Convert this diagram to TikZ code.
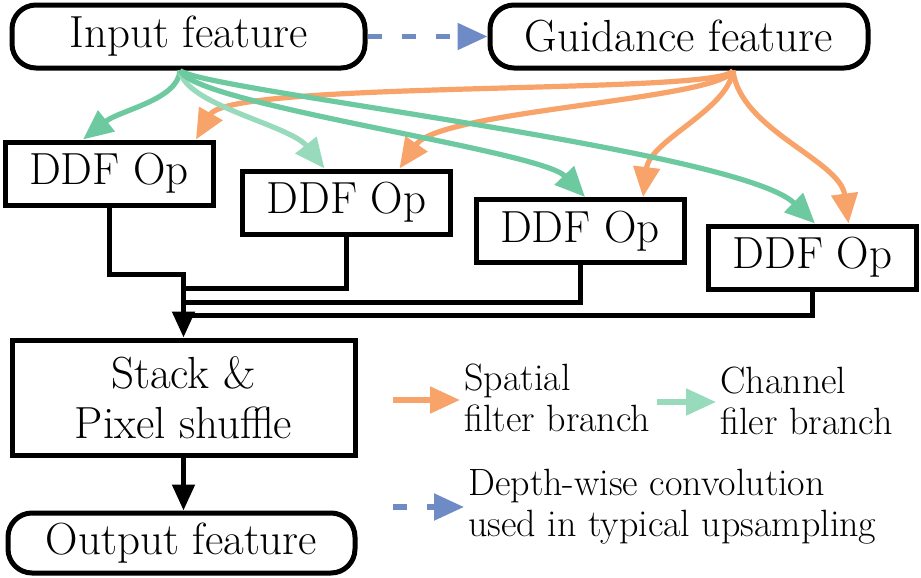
\documentclass[tikz,border=0pt]{standalone}
\usetikzlibrary{arrows.meta}

\definecolor{grn}{RGB}{109,201,160}
\definecolor{lgrn}{RGB}{152,218,188}
\definecolor{org}{RGB}{247,163,106}
\definecolor{blu}{RGB}{110,139,198}

\tikzset{
  feat/.style={draw, line width=2.5pt, rounded corners=12pt, minimum height=31.5pt,
    inner sep=0pt, font=\fontsize{22.5}{27}\selectfont},
  opbox/.style={draw, line width=2.5pt, minimum width=104pt, minimum height=31.5pt,
    inner sep=0pt, font=\fontsize{22.5}{27}\selectfont},
  legtext/.style={anchor=west, align=left, inner sep=2pt, font=\fontsize{19}{20.5}\selectfont},
  tip/.style={-{Triangle[length=15pt 0, width=13pt 0]}},
  flow/.style={line width=2.6pt, tip},
  wire/.style={line width=2.5pt},
  dsh/.style={line width=2.6pt, blu, dash pattern=on 7pt off 10pt, tip}
}

\begin{document}
\begin{tikzpicture}[x=0.5pt, y=-0.5pt]
  \useasboundingbox (0,0) rectangle (921,578);

  \node[feat, minimum width=176.5pt] (in) at (188.5,36.5) {Input feature};
  \node[feat, minimum width=189pt] (gd) at (679,36.5) {Guidance feature};
  \draw[dsh] (in.east) -- (gd.west);

  \foreach \n/\x/\y in {1/109/173.5, 2/346.5/202.5, 3/580/231, 4/812.5/257.5} {
    \node[opbox] (d\n) at (\x,\y) {DDF Op};
  }

  \node[opbox, minimum width=171.5pt, minimum height=57.5pt, align=center,
    font=\fontsize{22.5}{25}\selectfont] (stk) at (183.5,397.5) {Stack \&\\Pixel shuffle};
  \node[feat, minimum width=173.5pt, minimum height=30pt] (out) at (181.5,543) {Output feature};

  % spatial branch
  \draw[flow, org] ([xshift=27pt]gd.south) .. controls (725,95) and (230,80) .. ([xshift=43.5pt]d1.north);
  \draw[flow, org] ([xshift=27pt]gd.south) .. controls (720,100) and (440,110) .. ([xshift=26.5pt]d2.north);
  \draw[flow, org] ([xshift=27pt]gd.south) .. controls (728,110) and (650,140) .. ([xshift=31.5pt]d3.north);
  \draw[flow, org] ([xshift=27pt]gd.south) .. controls (740,130) and (840,160) .. ([xshift=18pt]d4.north);

  % channel branch
  \draw[flow, grn] ([xshift=-4.25pt]in.south) .. controls (178,100) and (120,110) .. ([xshift=-13pt]d1.north);
  \draw[flow, lgrn] ([xshift=-4.25pt]in.south) .. controls (185,105) and (290,125) .. ([xshift=-11pt]d2.north);
  \draw[flow, grn] ([xshift=-4.25pt]in.south) .. controls (195,105) and (540,150) .. ([xshift=2.5pt]d3.north);
  \draw[flow, grn] ([xshift=-4.25pt]in.south) .. controls (200,90) and (740,150) .. ([xshift=1.25pt]d4.north);

  % merge into stack
  \coordinate (m1) at (183.5,274);
  \coordinate (m2) at (183.5,288);
  \coordinate (m3) at (183.5,302);
  \coordinate (m4) at (183.5,315);
  \draw[wire, -{Triangle[length=13pt 0, width=11pt 0]}] (d1.south) |- (m1) -- (stk.north);
  \draw[wire] (d2.south) |- (m2);
  \draw[wire] (d3.south) |- (m3);
  \draw[wire] (d4.south) |- (m4);
  \draw[wire, -{Triangle[length=13pt 0, width=11pt 0]}] (stk.south) -- (stk.south |- out.north);

  % legend
  \node[legtext] (lsp) at (460,398) {Spatial\\filter branch};
  \node[legtext] (lch) at (716,401) {Channel\\filer branch};
  \node[legtext] (ldw) at (464,507) {Depth-wise convolution\\used in typical upsampling};
  \coordinate (ksp) at (393,400);
  \coordinate (kch) at (657,402);
  \coordinate (kdw) at (393,507);
  \draw[flow, org] (ksp) -- (ksp -| lsp.west);
  \draw[flow, lgrn] (kch) -- (kch -| lch.west);
  \draw[dsh] (kdw) -- (kdw -| ldw.west);
\end{tikzpicture}
\end{document}
